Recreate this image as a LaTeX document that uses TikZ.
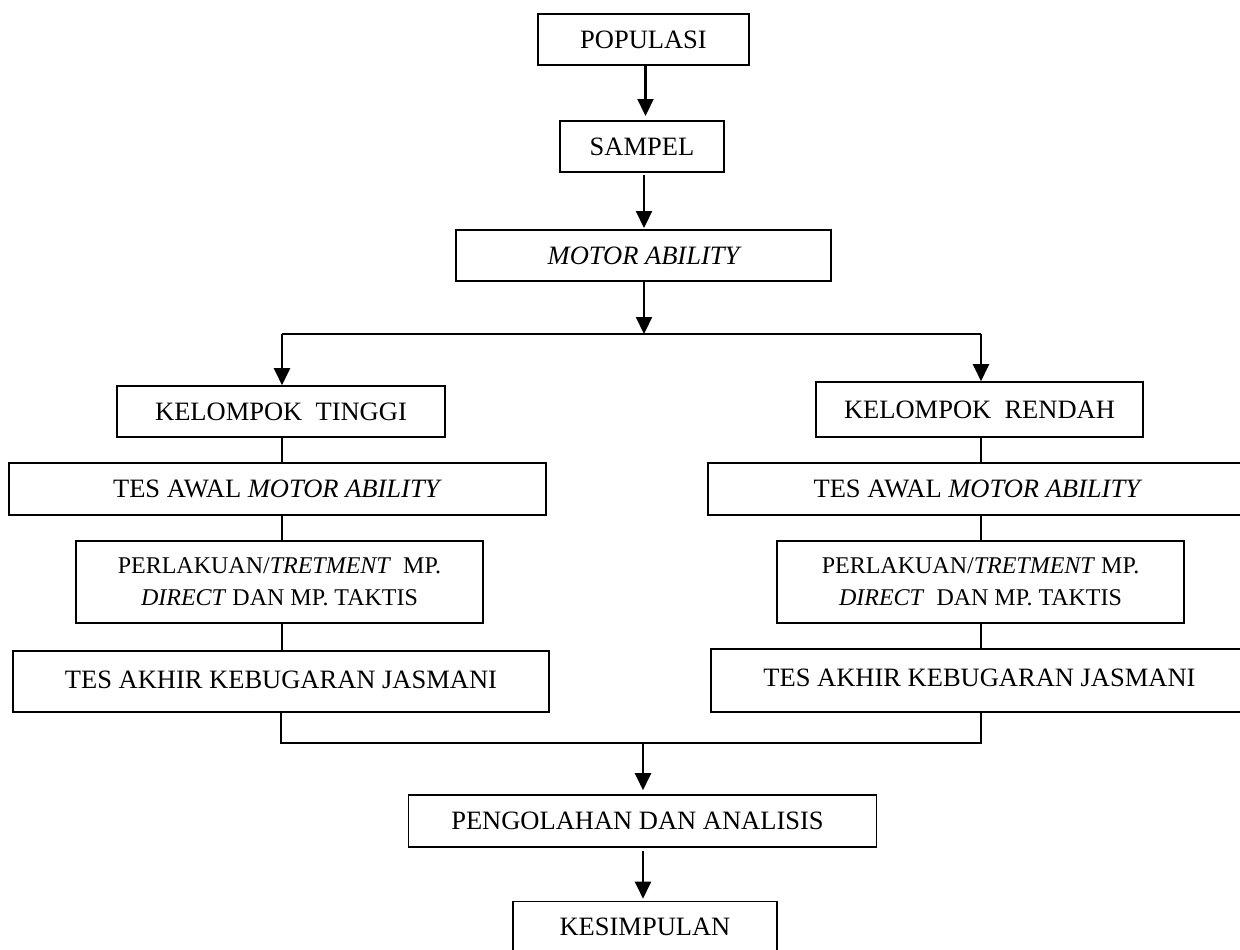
\documentclass[tikz,border=0pt]{standalone}
\usepackage{fontspec}
\usepackage{graphicx}
\setmainfont{Liberation Serif}
\usetikzlibrary{arrows.meta}
\tikzset{
  box/.style={draw, line width=1.6pt, inner sep=0pt, align=center,
    font=\fontsize{26.5}{32}\selectfont},
  smallbox/.style={box, font=\fontsize{24}{32}\selectfont},
  arr/.style={line width=2.2pt, -{Triangle[width=16pt,length=17pt]}},
  link/.style={line width=1.2pt},
  branch/.style={line width=1.6pt},
}
\begin{document}
\begin{tikzpicture}[x=1pt,y=-1pt]
\useasboundingbox (0,0) rectangle (1240,950);
% top chain
\node[box, minimum width=211pt, minimum height=51pt] (pop) at (643.5,39.5) {POPULASI};
\node[box, minimum width=164pt, minimum height=51pt] (sam) at (642,146.5) {SAMPEL};
\node[box, minimum width=375pt, minimum height=51pt] (ma) at (643.5,255.5) {\itshape MOTOR ABILITY};
% left column
\node[box, minimum width=328pt, minimum height=51pt] (kt) at (281,411.5) {KELOMPOK\ \ TINGGI};
\node[box, minimum width=537pt, minimum height=52pt] (tal) at (277.5,489) {TES AWAL \textit{MOTOR ABILITY}};
\node[smallbox, minimum width=407pt, minimum height=82pt] (pl) at (279.5,582) {PERLAKUAN/\textit{TRETMENT}\ \ MP.\\\textit{DIRECT} DAN MP. TAKTIS};
\node[box, minimum width=536pt, minimum height=61pt] (tkl) at (281,681.5) {\raisebox{4.5pt}{TES AKHIR KEBUGARAN JASMANI}};
% right column
\node[box, minimum width=327pt, minimum height=55pt] (kr) at (979.5,409.5) {KELOMPOK\ \ RENDAH};
\node[box, minimum width=540pt, minimum height=52pt] (tar) at (978,489) {TES AWAL \textit{MOTOR ABILITY}};
\node[smallbox, minimum width=407pt, minimum height=82pt] (pr) at (980.5,582) {PERLAKUAN/\textit{TRETMENT} MP.\\\textit{DIRECT}\ \ DAN MP. TAKTIS};
\node[box, minimum width=537pt, minimum height=63pt] (tkr) at (979.5,680.5) {\raisebox{5pt}{TES AKHIR KEBUGARAN JASMANI}};
% bottom
\node[box, minimum width=468pt, minimum height=52pt] (peng) at (642.5,821) {PENGOLAHAN DAN ANALISIS\hspace*{10pt}};
\node[box, minimum width=264pt, minimum height=51pt] (kes) at (645,927) {KESIMPULAN};
% connector coordinates
\coordinate (a1s) at (645.5,65);
\coordinate (a1e) at (645.5,116);
\coordinate (a2s) at (644,175);
\coordinate (a2e) at (644,228);
\coordinate (bm) at (644,334);
\coordinate (bl) at (282,334);
\coordinate (brr) at (981,334);
\coordinate (jl) at (281,743);
\coordinate (jr) at (981,743);
\coordinate (jm) at (643,743);
% top arrows
\draw[arr] (a1s) -- (a1e);
\draw[arr] (a2s) -- (a2e);
\draw[arr] (ma.south -| bm) -- (bm);
\draw[branch] (bl) -- (brr);
\draw[arr] (bl) -- (bl |- kt.north);
\draw[arr] (brr) -- (brr |- kr.north);
% column links
\draw[link] (kt.south -| bl) -- (tal.north -| bl);
\draw[link] (tal.south -| bl) -- (pl.north -| bl);
\draw[link] (pl.south -| bl) -- (tkl.north -| bl);
\draw[link] (kr.south -| brr) -- (tar.north -| brr);
\draw[link] (tar.south -| brr) -- (pr.north -| brr);
\draw[link] (pr.south -| brr) -- (tkr.north -| brr);
% join
\draw[branch] (tkl.south -| jl) -- (jl) -- (jr) -- (tkr.south -| jr);
\draw[arr] (jm) -- ([yshift=4pt]peng.north -| jm);
\draw[arr] ([yshift=-3pt]peng.south -| jm) -- ([yshift=2pt]kes.north -| jm);
\end{tikzpicture}
\end{document}
